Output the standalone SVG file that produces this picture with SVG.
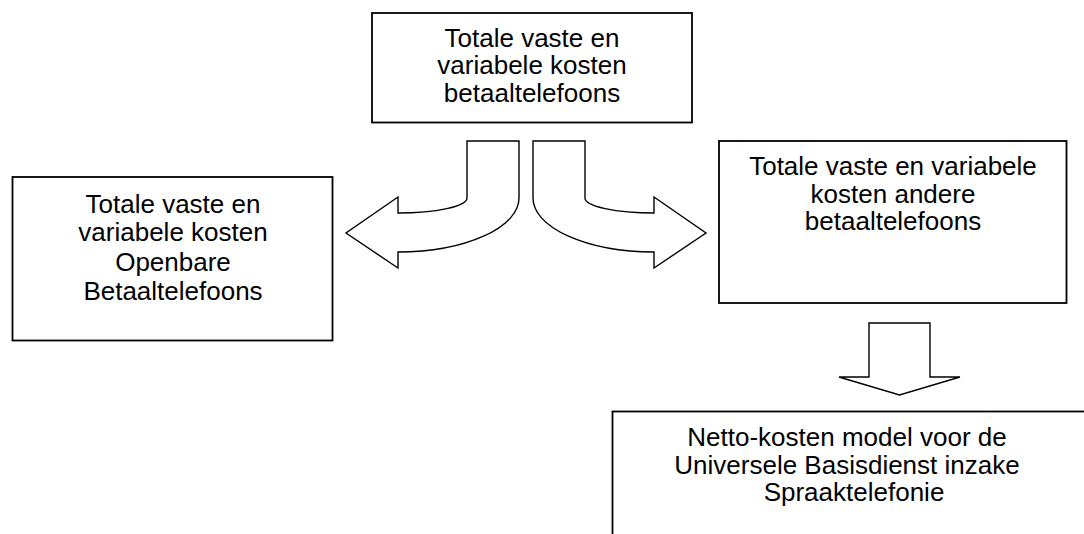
<svg xmlns="http://www.w3.org/2000/svg" width="1084" height="534" viewBox="0 0 1084 534">
<style>
.box{fill:#fff;stroke:#000;stroke-width:1.8}
.arr{fill:#fff;stroke:#000;stroke-width:1.4;stroke-linejoin:miter}
text{font-family:"Liberation Sans",Arial,sans-serif;font-size:26px;fill:#000;text-anchor:middle}
</style>
<rect width="1084" height="534" fill="#fff"/>
<g id="node-top">
<rect class="box" x="372" y="13" width="320" height="109.5"/>
<text x="532" y="46.5">Totale vaste en</text>
<text x="532" y="74">variabele kosten</text>
<text x="532" y="101.5">betaaltelefoons</text>
</g>
<g id="node-left">
<rect class="box" x="12.5" y="177" width="320" height="163.5"/>
<text x="173" y="212.5">Totale vaste en</text>
<text x="173" y="241">variabele kosten</text>
<text x="173" y="270.5">Openbare</text>
<text x="173" y="300">Betaaltelefoons</text>
</g>
<g id="node-right">
<rect class="box" x="719" y="141" width="347.5" height="162"/>
<text x="893" y="175">Totale vaste en variabele</text>
<text x="893" y="202.5">kosten andere</text>
<text x="893" y="230">betaaltelefoons</text>
</g>
<g id="node-bottom">
<rect class="box" x="612.5" y="411.5" width="480" height="140"/>
<text x="847" y="446">Netto-kosten model voor de</text>
<text x="847" y="473.5">Universele Basisdienst inzake</text>
<text x="854" y="501">Spraaktelefonie</text>
</g>
<g id="connectors">
<path class="arr" d="M467 141 L519 141 L519 198 A121 54 0 0 1 398 252 L398 268 L346 233 L398 197 L398 213 A69 15 0 0 0 467 198 Z"/>
<path class="arr" d="M585 141 L533 141 L533 198 A121 54 0 0 0 654 252 L654 268 L706 233 L654 197 L654 213 A69 15 0 0 1 585 198 Z"/>
<path class="arr" d="M869 323 L930 323 L930 377 L960 377 L899.5 395 L839 377 L869 377 Z"/>
</g>
</svg>
